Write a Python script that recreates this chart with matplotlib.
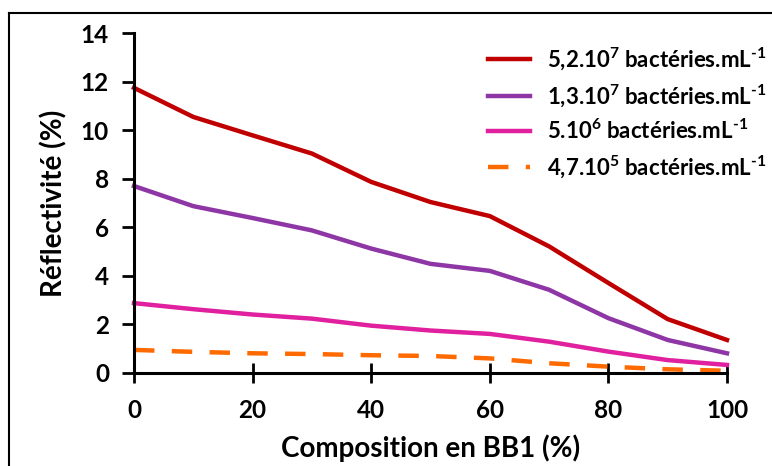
import matplotlib
matplotlib.use("Agg")
import matplotlib.pyplot as plt
from matplotlib.lines import Line2D

plt.rcParams['font.family'] = ['Lato', 'DejaVu Sans']
plt.rcParams['font.weight'] = 'bold'
plt.rcParams['mathtext.fontset'] = 'custom'
plt.rcParams['mathtext.rm'] = 'Lato:bold'
plt.rcParams['mathtext.it'] = 'Lato:bold'
plt.rcParams['mathtext.bf'] = 'Lato:bold'
plt.rcParams['mathtext.default'] = 'regular'

composition = [0, 10, 20, 30, 40, 50, 60, 70, 80, 90, 100]
s_52e7 = [11.75, 10.55, 9.79, 9.04, 7.87, 7.04, 6.46, 5.21, 3.70, 2.21, 1.35]
s_13e7 = [7.70, 6.87, 6.38, 5.87, 5.12, 4.49, 4.20, 3.42, 2.25, 1.35, 0.80]
s_5e6 = [2.87, 2.62, 2.40, 2.23, 1.94, 1.74, 1.60, 1.28, 0.87, 0.52, 0.32]
s_47e5 = [0.94, 0.86, 0.80, 0.77, 0.72, 0.69, 0.59, 0.39, 0.25, 0.14, 0.08]
labels = [r"5,2.10$^{7}$ bactéries.mL$^{‐1}$",
          r"1,3.10$^{7}$ bactéries.mL$^{‐1}$",
          r"5.10$^{6}$ bactéries.mL$^{‐1}$",
          r"4,7.10$^{5}$ bactéries.mL$^{‐1}$"]
colors = ["#C00000", "#8E36A5", "#E0209F", "#FF6A00"]
xticks = [0, 20, 40, 60, 80, 100]
yticks = [0, 2, 4, 6, 8, 10, 12, 14]

fig = plt.figure(figsize=(7.72, 4.66), dpi=100)
ax = fig.add_axes([134/772, 1 - 372.7/466, (727-134)/772, (372.7-33.3)/466])

lw = 3.2
ax.plot(composition, s_52e7, color=colors[0], lw=lw, label=labels[0])
ax.plot(composition, s_13e7, color=colors[1], lw=lw, label=labels[1])
ax.plot(composition, s_5e6, color=colors[2], lw=lw, label=labels[2])
ax.plot(composition, s_47e5, color=colors[3], lw=lw, label=labels[3],
        dashes=(4.6, 3.9), dash_capstyle='butt')

ax.set_xlim(0, 100)
ax.set_ylim(0, 14)
ax.set_xticks(xticks)
ax.set_yticks(yticks)
ax.tick_params(axis='x', direction='inout', length=14, width=2, labelsize=17.5, pad=12)
ax.tick_params(axis='y', direction='out', length=9, width=2, labelsize=17.5, pad=9)
for s in ['top', 'right']:
    ax.spines[s].set_visible(False)
for s in ['left', 'bottom']:
    ax.spines[s].set_linewidth(2.2)
for ln in ax.lines:
    ln.set_clip_on(False)

ax.set_xlabel("Composition en BB1 (%)", fontsize=20, fontweight='bold', labelpad=9)
ax.set_ylabel("Réflectivité (%)", fontsize=20, fontweight='bold', labelpad=10)

leg = ax.legend(loc='upper left', bbox_to_anchor=(488/772, 1 - 45/466),
                bbox_transform=fig.transFigure, frameon=False, fontsize=16,
                handlelength=1.9, handletextpad=0.75, labelspacing=0.45,
                borderaxespad=0, borderpad=0)
for t in leg.get_texts():
    t.set_fontweight('bold')

# figure border (top and left visible, others clipped off)
fig.add_artist(Line2D([8.5/772, 1.0], [1 - 13/466, 1 - 13/466], color='black', lw=1.5,
                      transform=fig.transFigure))
fig.add_artist(Line2D([8.5/772, 8.5/772], [0, 1 - 13/466], color='black', lw=1.5,
                      transform=fig.transFigure))

fig.savefig("out.png", dpi=100)
